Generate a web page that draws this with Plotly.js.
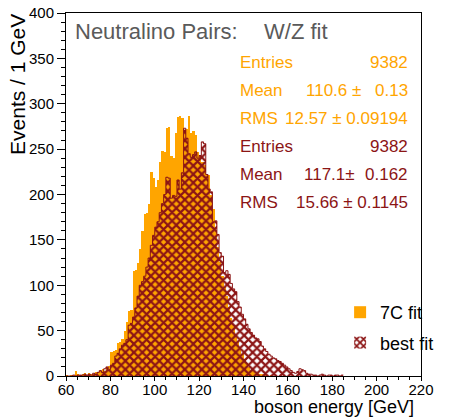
<!DOCTYPE html>
<html>
<head>
<meta charset="utf-8">
<script src="https://cdn.plot.ly/plotly-3.0.1.min.js"></script>
<style>
html,body{margin:0;padding:0;background:#fff;}
#chart{width:450px;height:417px;}
</style>
</head>
<body>
<div id="chart"></div>
<script>
// Histogram definition: 1 GeV bins starting at 60 GeV
const firstBinEdge = 60;
const binWidth = 1;

// 7C fit counts per bin (60..184 GeV)
const counts7C = [
  1,0,1,0,6,2,1,2,3,1,
  3,2,2,4,3,5,8,6,9,11,
  27,28,29,36,38,41,50,60,72,73,
  116,117,124,140,160,178,180,190,225,218,
  208,216,236,248,247,273,274,242,240,268,
  285,286,284,271,272,287,268,270,266,247,
  244,236,232,223,222,200,184,160,142,126,
  110,98,88,76,64,56,46,38,30,24,
  19,14,10,7,5,4,3,2,2,1,
  1,0,1,0,0,0,0,0,0,0,
  0,0,0,0,0,0,0,0,0,0,
  0,0,0,0,0,0,0,0,0,0,
  0,0,0,0,0
];

// best fit counts per bin (60..184 GeV)
const countsBest = [
  0,0,0,1,0,1,1,1,2,1,
  2,1,3,2,4,6,4,8,10,7,
  12,14,22,25,30,34,36,40,56,58,
  65,75,88,100,104,110,120,130,144,155,
  164,170,180,190,200,219,218,196,199,198,
  216,206,224,273,262,245,241,244,247,240,
  243,258,256,222,206,203,170,171,156,136,
  132,114,116,112,102,96,93,82,76,68,
  63,57,52,48,45,42,41,38,33,30,
  27,24,22,20,19,17,16,14,12,10,
  8,6,4,3,5,8,7,6,3,2,
  2,1,1,0,1,2,1,0,1,1,
  0,1,1,0,1
];

const statsLabels = ["Entries", "Mean", "RMS"];
const stats7C = ["9382", "110.6 \u00b1", "0.13", "12.57 \u00b1 0.09194"];
const statsBest = ["9382", "117.1\u00b1", "0.162", "15.66 \u00b1 0.1145"];

const seriesNames = ["7C fit", "best fit"];
const titleLeft = "Neutralino Pairs:";
const titleRight = "W/Z fit";
const xTitle = "boson energy [GeV]";
const yTitle = "Events / 1 GeV";

const ORANGE = "#ffa500";
const DARKRED = "#8c1515";
const FONT = "Liberation Sans, Arial, sans-serif";

const binCenters = counts7C.map((_, i) => firstBinEdge + binWidth * (i + 0.5));
const edges = countsBest.map((_, i) => firstBinEdge + binWidth * i).concat([firstBinEdge + binWidth * countsBest.length]);
const stepBest = countsBest.concat([countsBest[countsBest.length - 1]]);

// pixel -> paper helpers (plot area in pixels)
const L = 66, T = 13, W = 373, H = 363;
const px = x => (x - L) / W;
const py = y => (T + H - y) / H;

const traces = [
  {
    type: "bar", x: binCenters, y: counts7C, width: binWidth,
    name: seriesNames[0], legendgroup: "a",
    marker: {color: ORANGE, line: {width: 0}},
    hoverinfo: "skip"
  },
  {
    type: "bar", x: binCenters, y: countsBest, width: binWidth,
    name: seriesNames[1], legendgroup: "b",
    marker: {color: DARKRED, line: {width: 0},
      pattern: {shape: "x", size: 6, solidity: 0.6, fillmode: "replace"}},
    hoverinfo: "skip"
  },
  {
    type: "scatter", mode: "lines", x: edges, y: stepBest,
    line: {shape: "hv", color: DARKRED, width: 1},
    showlegend: false, hoverinfo: "skip"
  }
];

const ann = [];
function txt(text, x, y, opts) {
  ann.push(Object.assign({
    text: text, xref: "paper", yref: "paper", x: px(x), y: py(y),
    xanchor: "left", yanchor: "middle", showarrow: false,
    font: {family: FONT, size: 17, color: "#000"}
  }, opts || {}));
}
// title
txt(titleLeft, 73, 32, {font: {family: FONT, size: 22, color: "#5a5a5a"}});
txt(titleRight, 272, 32, {font: {family: FONT, size: 22, color: "#5a5a5a"}});
// stats 7C
const rows = [62, 90, 118, 146, 175, 203];
const colL = 247, colR = 427;
txt(statsLabels[0], colL, rows[0], {font: {family: FONT, size: 17, color: ORANGE}});
txt(stats7C[0], colR, rows[0], {xanchor: "right", font: {family: FONT, size: 17, color: ORANGE}});
txt(statsLabels[1], colL, rows[1], {font: {family: FONT, size: 17, color: ORANGE}});
txt(stats7C[1], 378, rows[1], {xanchor: "right", font: {family: FONT, size: 17, color: ORANGE}});
txt(stats7C[2], colR, rows[1], {xanchor: "right", font: {family: FONT, size: 17, color: ORANGE}});
txt(statsLabels[2], colL, rows[2], {font: {family: FONT, size: 17, color: ORANGE}});
txt(stats7C[3], colR, rows[2], {xanchor: "right", font: {family: FONT, size: 17, color: ORANGE}});
// stats best
txt(statsLabels[0], colL, rows[3], {font: {family: FONT, size: 17, color: DARKRED}});
txt(statsBest[0], colR, rows[3], {xanchor: "right", font: {family: FONT, size: 17, color: DARKRED}});
txt(statsLabels[1], colL, rows[4], {font: {family: FONT, size: 17, color: DARKRED}});
txt(statsBest[1], 372, rows[4], {xanchor: "right", font: {family: FONT, size: 17, color: DARKRED}});
txt(statsBest[2], colR, rows[4], {xanchor: "right", font: {family: FONT, size: 17, color: DARKRED}});
txt(statsLabels[2], colL, rows[5], {font: {family: FONT, size: 17, color: DARKRED}});
txt(statsBest[3], colR, rows[5], {xanchor: "right", font: {family: FONT, size: 17, color: DARKRED}});
// axis titles
txt(xTitle, 434, 395, {xanchor: "right", yanchor: "top", font: {family: FONT, size: 18, color: "#000"}});
txt(yTitle, 15, 12, {xanchor: "center", yanchor: "top", textangle: -90, font: {family: FONT, size: 21, color: "#000"}});

const layout = {
  width: 450, height: 417,
  margin: {l: L, r: 450 - L - W, t: T, b: 417 - T - H, pad: 0},
  paper_bgcolor: "#fff", plot_bgcolor: "#fff",
  barmode: "overlay", bargap: 0,
  font: {family: FONT, size: 15, color: "#000"},
  showlegend: true,
  legend: {
    x: px(354), y: py(294), xanchor: "left", yanchor: "top",
    bgcolor: "rgba(0,0,0,0)", borderwidth: 0,
    font: {family: FONT, size: 18, color: "#000"},
    traceorder: "grouped", tracegroupgap: 4, itemwidth: 30
  },
  xaxis: {
    range: [60, 220], dtick: 20, tick0: 60,
    ticks: "outside", ticklen: 4, tickwidth: 1, tickcolor: "#000",
    ticklabelstandoff: -4,
    minor: {dtick: 5, ticks: "outside", ticklen: 3, tickcolor: "#000", showgrid: false},
    showline: true, linecolor: "#000", linewidth: 1, mirror: true,
    showgrid: false, zeroline: false,
    tickfont: {family: FONT, size: 15, color: "#000"}
  },
  yaxis: {
    range: [0, 400], dtick: 50, tick0: 0,
    ticks: "outside", ticklen: 8, tickwidth: 1, tickcolor: "#000",
    minor: {dtick: 10, ticks: "outside", ticklen: 4, tickcolor: "#000", showgrid: false},
    showline: true, linecolor: "#000", linewidth: 1, mirror: true,
    showgrid: false, zeroline: false,
    tickfont: {family: FONT, size: 15, color: "#000"}
  },
  annotations: ann
};

Plotly.newPlot("chart", traces, layout, {displayModeBar: false, staticPlot: true});
</script>
</body>
</html>
